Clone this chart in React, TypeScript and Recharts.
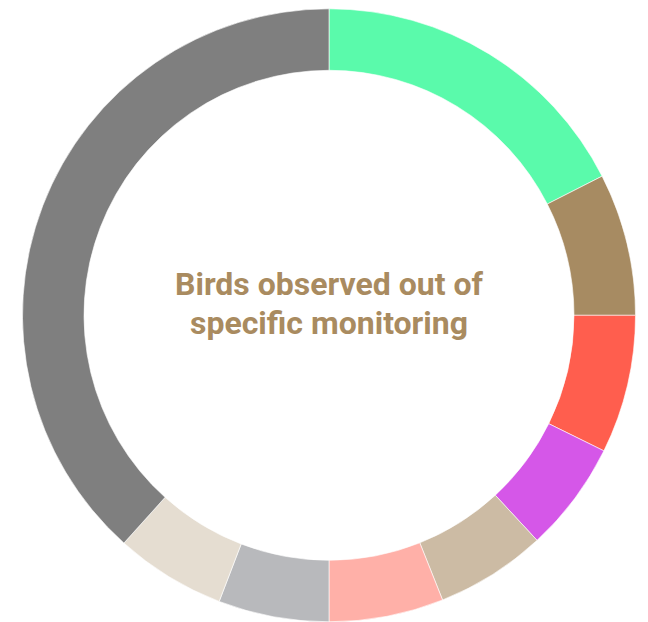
import { Cell, Label, Pie, PieChart } from "recharts";

const categories = [
  "Category A",
  "Category B",
  "Category C",
  "Category D",
  "Category E",
  "Category F",
  "Category G",
  "Category H",
  "Other",
];
const values = [42, 18, 17.5, 14, 14, 14.5, 14, 14, 92];
const colors = [
  "#5AFAAB",
  "#A78B62",
  "#FF5E4E",
  "#D557E8",
  "#CCBBA4",
  "#FFB0A8",
  "#B8B9BC",
  "#E5DDD1",
  "#7F7F7F",
];
const titleLines = ["Birds observed out of", "specific monitoring"];

const data = categories.map((name, i) => ({ name, value: values[i] }));

export default function App() {
  return (
    <div style={{ position: "absolute", left: 0, top: 0 }}>
      <PieChart width={648} height={622} margin={{ top: 0, right: 0, bottom: 0, left: 0 }}>
        <Pie
          data={data}
          dataKey="value"
          nameKey="name"
          cx={329}
          cy={315.3}
          innerRadius={245}
          outerRadius={306.5}
          startAngle={90}
          endAngle={-270}
          stroke="#fff"
          strokeWidth={0.6}
          isAnimationActive={false}
        >
          {data.map((d, i) => (
            <Cell key={d.name} fill={colors[i]} />
          ))}
          <Label
            position="center"
            content={({ viewBox }: any) => {
              const cx = viewBox?.cx ?? 329;
              const cy = viewBox?.cy ?? 315;
              return (
                <text
                  textAnchor="middle"
                  fill="#A98B60"
                  fontFamily="Roboto, sans-serif"
                  fontWeight={700}
                  fontSize={32}
                >
                  <tspan x={cx} y={cy - 20.5}>
                    {titleLines[0]}
                  </tspan>
                  <tspan x={cx} y={cy + 18.5}>
                    {titleLines[1]}
                  </tspan>
                </text>
              );
            }}
          />
        </Pie>
      </PieChart>
    </div>
  );
}
